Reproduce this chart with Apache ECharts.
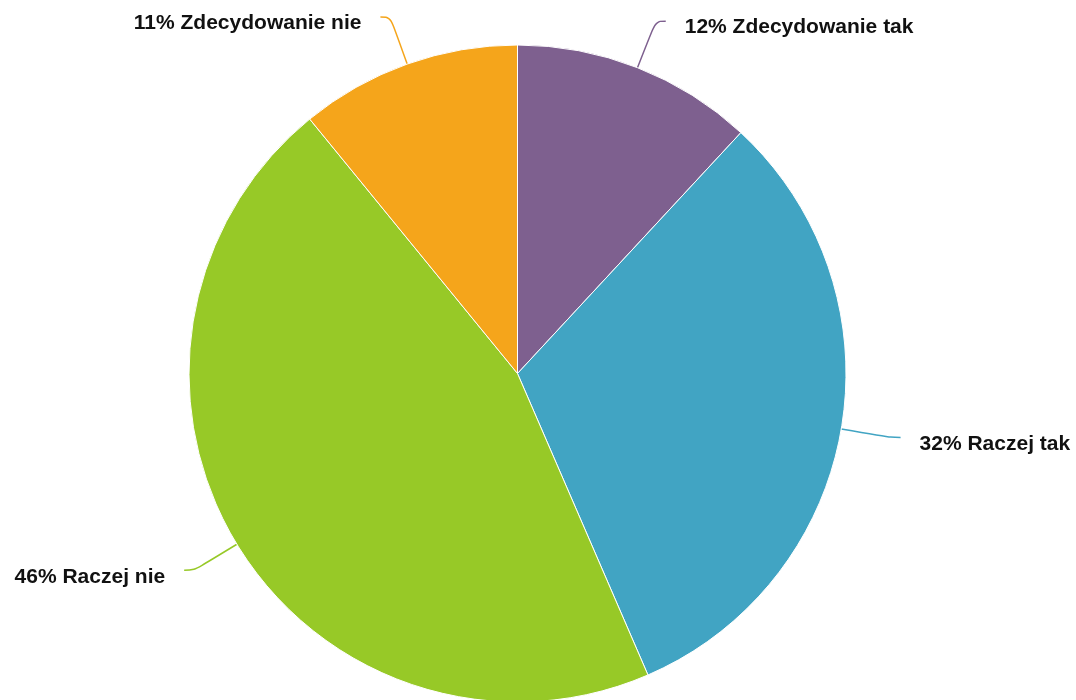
<!DOCTYPE html>
<html>
<head>
<meta charset="utf-8">
<script src="https://cdn.jsdelivr.net/npm/echarts@6/dist/echarts.min.js"></script>
<style>html,body{margin:0;padding:0;background:#fff;}#c{width:1076px;height:700px;}</style>
</head>
<body>
<div id="c"></div>
<script>
var categories = ['Zdecydowanie tak', 'Raczej tak', 'Raczej nie', 'Zdecydowanie nie'];
var values = [11.9, 31.6, 45.6, 10.9];
var colors = ['#7e608f', '#41a4c3', '#97c927', '#f5a51b'];

var chart = echarts.init(document.getElementById('c'), null, {renderer: 'canvas'});
chart.setOption({
  animation: false,
  backgroundColor: '#ffffff',
  series: [{
    type: 'pie',
    center: [517.5, 373.5],
    radius: 328.5,
    startAngle: 90,
    clockwise: true,
    avoidLabelOverlap: false,
    data: categories.map(function (n, i) {
      return { name: n, value: values[i], itemStyle: { color: colors[i] } };
    }),
    itemStyle: { borderColor: '#ffffff', borderWidth: 1 },
    label: {
      show: true,
      position: 'outer',
      formatter: function (p) { return '{t|' + Math.round(p.percent) + '% ' + p.name + '}'; },
      rich: {
        t: {
          fontFamily: 'Liberation Sans, Arial, sans-serif',
          fontWeight: 'bold',
          fontSize: 21,
          color: '#111111',
          padding: [13, 0, 0, 0]
        }
      },
      distanceToLabelLine: 19
    },
    labelLine: {
      show: true,
      length: 50,
      length2: 10,
      smooth: 0.4,
      lineStyle: { width: 1.5 }
    },
    emphasis: { disabled: true }
  }]
});
</script>
</body>
</html>
